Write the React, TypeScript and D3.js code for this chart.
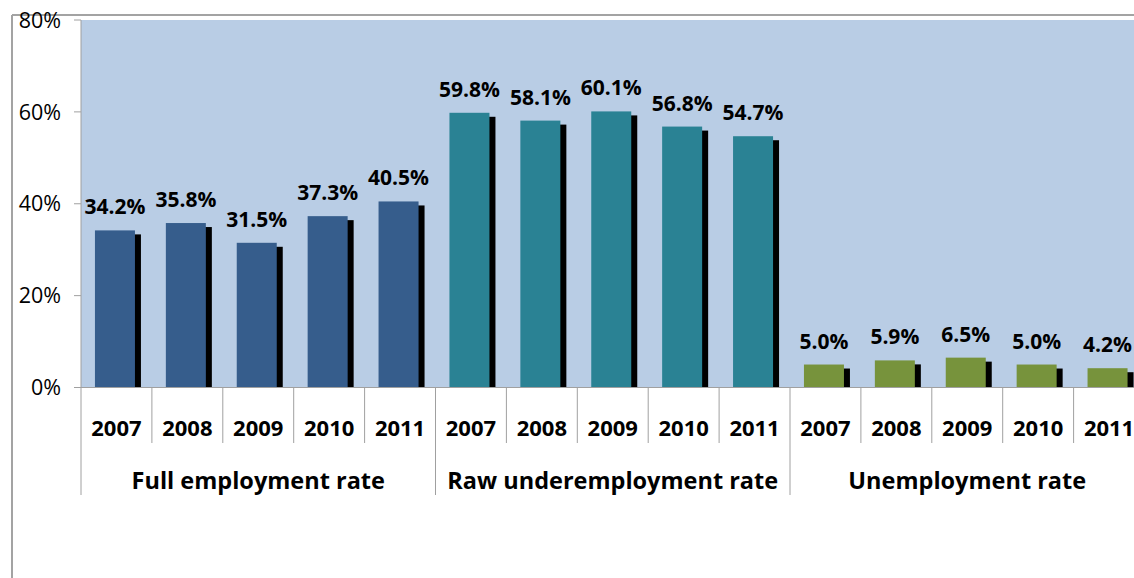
import React from "react";
import * as d3 from "d3";

const groups = ["Full employment rate", "Raw underemployment rate", "Unemployment rate"];
const years = ["2007", "2008", "2009", "2010", "2011"];
const fullEmployment = [34.2, 35.8, 31.5, 37.3, 40.5];
const rawUnderemployment = [59.8, 58.1, 60.1, 56.8, 54.7];
const unemployment = [5.0, 5.9, 6.5, 5.0, 4.2];
const seriesValues = [fullEmployment, rawUnderemployment, unemployment];
const groupColors = ["#365d8c", "#2a8294", "#77933c"];
const yTicks = [0, 20, 40, 60, 80];

const W = 1134;
const H = 578;
const plot = { left: 81, top: 20, right: 1144.5, bottom: 387.5 };
const FONT = "'Open Sans', 'DejaVu Sans', sans-serif";

export default function App() {
  const rows = groups.flatMap((g, gi) =>
    years.map((yr, yi) => ({ key: `${gi}-${yi}`, group: g, gi, year: yr, value: seriesValues[gi][yi] }))
  );
  const x = d3.scaleBand<string>().domain(rows.map((r) => r.key)).range([plot.left, plot.right]).padding(0);
  const y = d3.scaleLinear().domain([0, 80]).range([plot.bottom, plot.top]);
  const bw = x.bandwidth();
  const barW = 40;
  const barOff = (bw - barW) / 2 - 1.5;
  const groupStart = (gi: number) => x(`${gi}-0`)!;
  const groupEnd = (gi: number) => x(`${gi}-4`)! + bw;

  return (
    <svg width={W} height={H} style={{ position: "absolute", left: 0, top: 0, background: "#fff" }} fontFamily={FONT}>
      <defs>
        <clipPath id="plotClip">
          <rect x={plot.left} y={plot.top} width={plot.right - plot.left} height={plot.bottom - plot.top} />
        </clipPath>
      </defs>
      {/* chart border */}
      <line x1={12} y1={15} x2={W} y2={15} stroke="#a3a3a3" strokeWidth={2} />
      <line x1={12} y1={15} x2={12} y2={H} stroke="#a3a3a3" strokeWidth={2} />
      {/* plot background */}
      <rect x={plot.left} y={plot.top} width={plot.right - plot.left} height={plot.bottom - plot.top} fill="#b9cde5" />
      {/* bars */}
      <g clipPath="url(#plotClip)">
        {rows.map((r) => {
          const bx = x(r.key)! + barOff;
          const by = y(r.value);
          return (
            <g key={r.key}>
              <rect x={bx + 6} y={by + 4} width={barW} height={plot.bottom - by} fill="#000" />
              <rect x={bx} y={by} width={barW} height={plot.bottom - by} fill={groupColors[r.gi]} />
            </g>
          );
        })}
      </g>
      {/* value labels */}
      {rows.map((r) => (
        <text
          key={"l" + r.key}
          x={x(r.key)! + barOff + barW / 2}
          y={y(r.value) - 16}
          textAnchor="middle"
          fontSize={21}
          fontWeight="bold"
          fill="#000"
        >
          {r.value.toFixed(1) + "%"}
        </text>
      ))}
      {/* y axis */}
      <line x1={plot.left} y1={plot.top} x2={plot.left} y2={plot.bottom} stroke="#a0a0a0" strokeWidth={1} />
      {yTicks.map((t) => (
        <g key={"yt" + t}>
          <line x1={plot.left - 7} x2={plot.left} y1={y(t)} y2={y(t)} stroke="#a0a0a0" />
          <text x={61} y={y(t)} dy="0.36em" textAnchor="end" fontSize={21.5} fill="#000">
            {t + "%"}
          </text>
        </g>
      ))}
      {/* x axis */}
      <line x1={plot.left} y1={plot.bottom} x2={plot.right} y2={plot.bottom} stroke="#a0a0a0" strokeWidth={1} />
      {rows.map((r, i) => {
        const xs = x(r.key)!;
        const isGroupStart = i % 5 === 0;
        return (
          <g key={"xt" + r.key}>
            <line x1={xs} x2={xs} y1={plot.bottom} y2={isGroupStart ? 495 : 443} stroke="#a0a0a0" />
            <text x={xs + bw / 2} y={436} textAnchor="middle" fontSize={22} fontWeight="bold" fill="#000">
              {r.year}
            </text>
          </g>
        );
      })}
      <line x1={plot.right} x2={plot.right} y1={plot.bottom} y2={495} stroke="#a0a0a0" />
      {groups.map((g, gi) => (
        <text
          key={"g" + gi}
          x={(groupStart(gi) + groupEnd(gi)) / 2}
          y={489}
          textAnchor="middle"
          fontSize={23.5}
          fontWeight="bold"
          fill="#000"
        >
          {g}
        </text>
      ))}
    </svg>
  );
}
